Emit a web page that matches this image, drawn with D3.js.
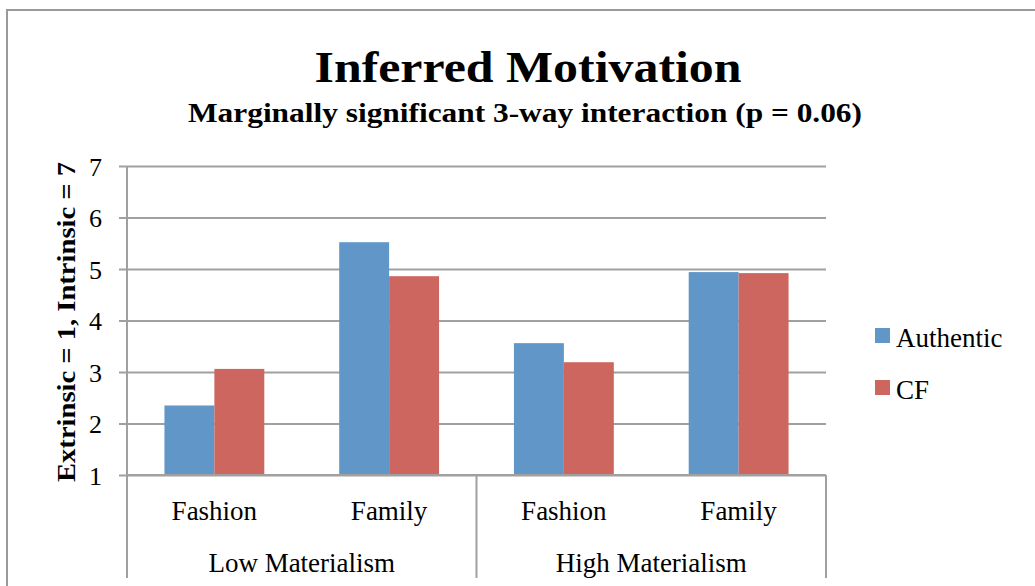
<!DOCTYPE html>
<html>
<head>
<meta charset="utf-8">
<script src="https://cdn.jsdelivr.net/npm/d3@7"></script>
<style>
  body { margin: 0; background: #fff; }
  text { font-family: "Liberation Serif", serif; fill: #000; }
</style>
</head>
<body>
<svg id="viz" width="1035" height="586"></svg>
<script>
// chart values
var groups = ["Low Materialism", "High Materialism"];
var categories = ["Fashion", "Family"];
var series = ["Authentic", "CF"];
var authentic = [2.35, 5.52, 3.56, 4.94];
var cf = [3.06, 4.86, 3.19, 4.92];
var yTicks = [1, 2, 3, 4, 5, 6, 7];
var colors = ["#6196c8", "#cd665f"];

var svg = d3.select("#viz"),
  width = +svg.attr("width"),
  height = +svg.attr("height");

// plot box (note: "top" is taken by window.top)
var plotLeft = 127, plotRight = 826, plotTop = 166, plotBottom = 475;

// one slot per group/category pair
var slots = [];
groups.forEach(function(g) {
  categories.forEach(function(c) {
    slots.push(g + "|" + c);
  });
});

var rows = slots.map(function(s, i) {
  return { slot: s, cat: s.split("|")[1], values: [authentic[i], cf[i]] };
});

var x = d3.scaleBand().domain(slots).range([plotLeft, plotRight]).padding(0);
var xg = d3.scaleBand().domain(groups).range([plotLeft, plotRight]).padding(0);
var xs = d3
  .scaleBand()
  .domain(series)
  .range([0, x.bandwidth()])
  .paddingInner(0)
  .paddingOuter(0.75);
var y = d3.scaleLinear().domain([1, 7]).range([plotBottom, plotTop]);

// outer frame
svg
  .append("rect")
  .attr("x", 7)
  .attr("y", 10)
  .attr("width", 1100)
  .attr("height", 700)
  .attr("fill", "none")
  .attr("stroke", "#9a9a9a")
  .attr("stroke-width", 2);

// title
svg
  .append("text")
  .attr("x", 528)
  .attr("y", 82)
  .attr("text-anchor", "middle")
  .attr("font-size", 45)
  .attr("font-weight", "bold")
  .attr("textLength", 427)
  .attr("lengthAdjust", "spacingAndGlyphs")
  .text("Inferred Motivation");

svg
  .append("text")
  .attr("x", 525)
  .attr("y", 122)
  .attr("text-anchor", "middle")
  .attr("font-size", 27)
  .attr("font-weight", "bold")
  .attr("textLength", 674)
  .attr("lengthAdjust", "spacingAndGlyphs")
  .text("Marginally significant 3-way interaction (p = 0.06)");

// gridlines + y ticks
var yAxis = svg
  .append("g")
  .attr("class", "y-axis")
  .attr("transform", "translate(" + plotRight + ",0)")
  .call(
    d3
      .axisLeft(y)
      .tickValues(yTicks)
      .tickSize(plotRight - plotLeft + 8)
      .tickPadding(17)
      .tickFormat(d3.format("d"))
  );
yAxis.select(".domain").remove();
yAxis
  .selectAll(".tick line")
  .attr("stroke", "#a0a0a0")
  .attr("stroke-width", 2);
yAxis
  .selectAll(".tick text")
  .attr("font-size", 26)
  .attr("font-family", "Liberation Serif, serif")
  .attr("fill", "#000")
  .attr("dy", "0.35em");

// y axis title
svg
  .append("text")
  .attr("transform", "translate(75,322) rotate(-90)")
  .attr("text-anchor", "middle")
  .attr("font-size", 26)
  .attr("font-weight", "bold")
  .attr("textLength", 320)
  .attr("lengthAdjust", "spacingAndGlyphs")
  .text("Extrinsic = 1, Intrinsic = 7");

// bars
var barGroups = svg
  .append("g")
  .selectAll("g")
  .data(rows)
  .enter()
  .append("g")
  .attr("transform", function(d) {
    return "translate(" + x(d.slot) + ",0)";
  });

barGroups
  .selectAll("rect")
  .data(function(d) {
    return d.values.map(function(v, i) {
      return { key: series[i], value: v, i: i };
    });
  })
  .enter()
  .append("rect")
  .attr("x", function(d) {
    return xs(d.key);
  })
  .attr("width", xs.bandwidth())
  .attr("y", function(d) {
    return y(d.value);
  })
  .attr("height", function(d) {
    return y(1) - y(d.value);
  })
  .attr("fill", function(d) {
    return colors[d.i];
  });

// category axis
var axisColor = "#a0a0a0";
svg
  .append("line")
  .attr("x1", plotLeft)
  .attr("x2", plotRight)
  .attr("y1", plotBottom)
  .attr("y2", plotBottom)
  .attr("stroke", axisColor)
  .attr("stroke-width", 2);

svg
  .append("line")
  .attr("x1", plotLeft)
  .attr("x2", plotLeft)
  .attr("y1", plotTop)
  .attr("y2", 578)
  .attr("stroke", axisColor)
  .attr("stroke-width", 2);

svg
  .append("g")
  .selectAll("line")
  .data(groups)
  .enter()
  .append("line")
  .attr("x1", function(d) {
    return xg(d) + xg.bandwidth();
  })
  .attr("x2", function(d) {
    return xg(d) + xg.bandwidth();
  })
  .attr("y1", plotBottom)
  .attr("y2", 578)
  .attr("stroke", axisColor)
  .attr("stroke-width", 2);

svg
  .append("g")
  .selectAll("text")
  .data(rows)
  .enter()
  .append("text")
  .attr("x", function(d) {
    return x(d.slot) + x.bandwidth() / 2;
  })
  .attr("y", 520)
  .attr("text-anchor", "middle")
  .attr("font-size", 27)
  .text(function(d) {
    return d.cat;
  });

svg
  .append("g")
  .selectAll("text")
  .data(groups)
  .enter()
  .append("text")
  .attr("x", function(d) {
    return xg(d) + xg.bandwidth() / 2;
  })
  .attr("y", 572)
  .attr("text-anchor", "middle")
  .attr("font-size", 27)
  .text(function(d) {
    return d;
  });

// legend
var legend = svg
  .append("g")
  .selectAll("g")
  .data(series)
  .enter()
  .append("g")
  .attr("transform", function(d, i) {
    return "translate(875," + (328 + i * 52) + ")";
  });

legend
  .append("rect")
  .attr("width", 15)
  .attr("height", 15)
  .attr("fill", function(d, i) {
    return colors[i];
  });

legend
  .append("text")
  .attr("x", 21)
  .attr("y", 18.5)
  .attr("font-size", 27)
  .text(function(d) {
    return d;
  });
</script>
</body>
</html>
